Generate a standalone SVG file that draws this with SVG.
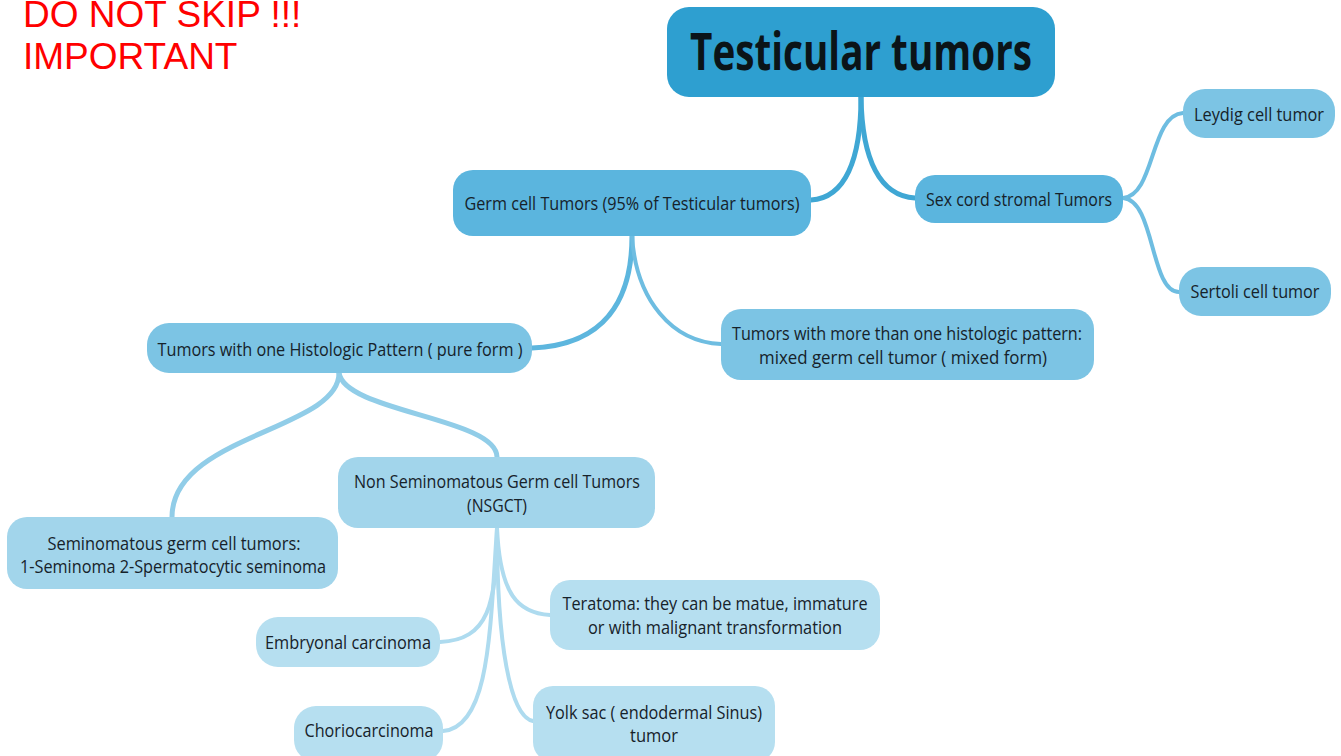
<svg xmlns="http://www.w3.org/2000/svg" width="1341" height="756" viewBox="0 0 1341 756">
<style>
  text { font-family: "Open Sans", "Noto Sans", "DejaVu Sans", sans-serif; fill: #16222a; text-anchor: middle; }
  .t { font-size: 18px; }
  .root { font-size: 52px; font-weight: bold; fill: #0b1418; }
  .warn { font-family: "Liberation Sans", Arial, sans-serif; font-size: 37px; fill: #ff0000; text-anchor: start; }
  .c1 { fill: #2e9fd0; }
  .c2 { fill: #5bb5de; }
  .c3 { fill: #7cc4e4; }
  .c4 { fill: #a2d5eb; }
  .c5 { fill: #b6dff0; }
  .e { fill: none; stroke-linecap: round; }
</style>
<rect width="1341" height="756" fill="#ffffff"/>
<text class="warn" x="23" y="27">DO NOT SKIP !!!</text>
<text class="warn" x="23" y="69">IMPORTANT</text>
<g id="connectors">
  <path class="e" d="M861,97 C861,160 845,198 811,200" stroke="#3fa7d4" stroke-width="5"/>
  <path class="e" d="M861,97 C862,160 880,196 915,198" stroke="#3fa7d4" stroke-width="5"/>
  <path class="e" d="M1123,198 C1155,196 1150,115 1183,113" stroke="#6ebde1" stroke-width="4"/>
  <path class="e" d="M1123,198 C1155,200 1150,292 1179,292" stroke="#6ebde1" stroke-width="4"/>
  <path class="e" d="M632,236 C632,300 605,345 532,348" stroke="#5db6de" stroke-width="5"/>
  <path class="e" d="M632,236 C636,300 672,342 721,344" stroke="#6ebde1" stroke-width="4"/>
  <path class="e" d="M339,373 C339,430 172,435 172,517" stroke="#91cde8" stroke-width="5"/>
  <path class="e" d="M339,373 C345,412 497,418 497,457" stroke="#91cde8" stroke-width="5"/>
  <path class="e" d="M497,528 C497,605 488,640 440,642" stroke="#aedbef" stroke-width="4"/>
  <path class="e" d="M497,528 C490,630 490,727 443,731" stroke="#aedbef" stroke-width="4"/>
  <path class="e" d="M497,528 C500,595 518,613 550,615" stroke="#aedbef" stroke-width="4"/>
  <path class="e" d="M497,528 C497,645 510,716 533,721" stroke="#aedbef" stroke-width="4"/>
</g>
<g id="root">
  <rect class="c1" x="667" y="7" width="388" height="90" rx="22"/>
  <text class="root" x="861" y="70" textLength="342" lengthAdjust="spacingAndGlyphs">Testicular tumors</text>
</g>
<g id="germ">
  <rect class="c2" x="453" y="170" width="358" height="66" rx="20"/>
  <text class="t" x="632" y="210" textLength="335" lengthAdjust="spacingAndGlyphs">Germ cell Tumors (95% of Testicular tumors)</text>
</g>
<g id="sexcord">
  <rect class="c2" x="915" y="175" width="208" height="48" rx="20"/>
  <text class="t" x="1019" y="206" textLength="186" lengthAdjust="spacingAndGlyphs">Sex cord stromal Tumors</text>
</g>
<g id="leydig">
  <rect class="c3" x="1183" y="89" width="152" height="49" rx="22"/>
  <text class="t" x="1259" y="121" textLength="130" lengthAdjust="spacingAndGlyphs">Leydig cell tumor</text>
</g>
<g id="sertoli">
  <rect class="c3" x="1179" y="267" width="152" height="49" rx="22"/>
  <text class="t" x="1255" y="298" textLength="129" lengthAdjust="spacingAndGlyphs">Sertoli cell tumor</text>
</g>
<g id="pure">
  <rect class="c3" x="147" y="323" width="385" height="50" rx="22"/>
  <text class="t" x="340" y="356" textLength="365" lengthAdjust="spacingAndGlyphs">Tumors with one Histologic Pattern ( pure form )</text>
</g>
<g id="mixed">
  <rect class="c3" x="721" y="309" width="373" height="71" rx="20"/>
  <text class="t" x="907" y="340" textLength="350" lengthAdjust="spacingAndGlyphs">Tumors with more than one histologic pattern:</text>
  <text class="t" x="903" y="364" textLength="288" lengthAdjust="spacingAndGlyphs">mixed germ cell tumor ( mixed form)</text>
</g>
<g id="nsgct">
  <rect class="c4" x="338" y="457" width="317" height="71" rx="20"/>
  <text class="t" x="497" y="488" textLength="286" lengthAdjust="spacingAndGlyphs">Non Seminomatous Germ cell Tumors</text>
  <text class="t" x="497" y="512" textLength="60" lengthAdjust="spacingAndGlyphs">(NSGCT)</text>
</g>
<g id="seminomatous">
  <rect class="c4" x="7" y="517" width="331" height="72" rx="20"/>
  <text class="t" x="174" y="550" textLength="253" lengthAdjust="spacingAndGlyphs">Seminomatous germ cell tumors:</text>
  <text class="t" x="173" y="573" textLength="306" lengthAdjust="spacingAndGlyphs">1-Seminoma 2-Spermatocytic seminoma</text>
</g>
<g id="teratoma">
  <rect class="c5" x="550" y="580" width="330" height="70" rx="20"/>
  <text class="t" x="715" y="610" textLength="305" lengthAdjust="spacingAndGlyphs">Teratoma: they can be matue, immature</text>
  <text class="t" x="715" y="634" textLength="254" lengthAdjust="spacingAndGlyphs">or with malignant transformation</text>
</g>
<g id="embryonal">
  <rect class="c5" x="256" y="617" width="184" height="50" rx="22"/>
  <text class="t" x="348" y="649" textLength="166" lengthAdjust="spacingAndGlyphs">Embryonal carcinoma</text>
</g>
<g id="chorio">
  <rect class="c5" x="294" y="706" width="149" height="56" rx="22"/>
  <text class="t" x="369" y="737" textLength="129" lengthAdjust="spacingAndGlyphs">Choriocarcinoma</text>
</g>
<g id="yolk">
  <rect class="c5" x="533" y="686" width="242" height="76" rx="20"/>
  <text class="t" x="654" y="719" textLength="216" lengthAdjust="spacingAndGlyphs">Yolk sac ( endodermal Sinus)</text>
  <text class="t" x="654" y="742" textLength="48" lengthAdjust="spacingAndGlyphs">tumor</text>
</g>
</svg>
